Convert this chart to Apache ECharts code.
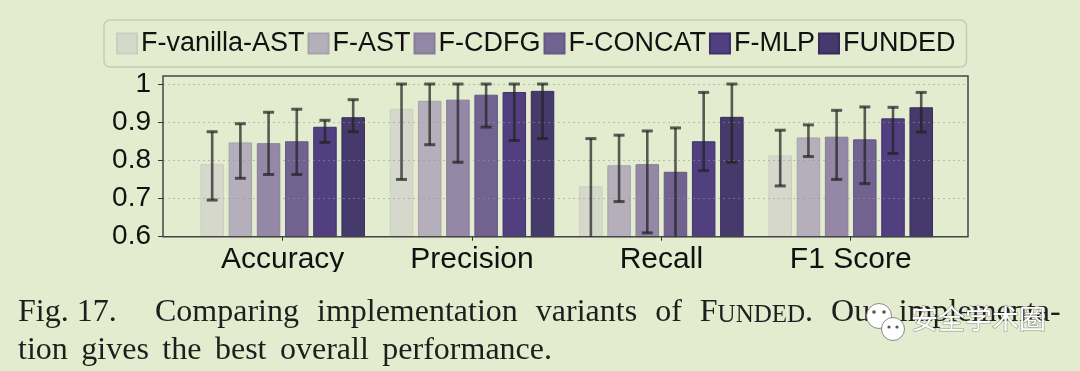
<!DOCTYPE html>
<html>
<head>
<meta charset="utf-8">
<script src="https://cdn.jsdelivr.net/npm/echarts@6/dist/echarts.min.js"></script>
<style>
html,body{margin:0;padding:0;background:#e3ecce;}
#chart{width:1080px;height:371px;}
</style>
</head>
<body>
<div id="chart"></div>
<script>
// ---- data ----
const categories = ['Accuracy', 'Precision', 'Recall', 'F1 Score'];
const seriesNames = ['F-vanilla-AST', 'F-AST', 'F-CDFG', 'F-CONCAT', 'F-MLP', 'FUNDED'];
const yTickValues = [0.6, 0.7, 0.8, 0.9, 1.0];
const yTickLabels = ['0.6', '0.7', '0.8', '0.9', '1'];

const vanillaAST      = [0.790, 0.935, 0.732, 0.813];
const vanillaASTLow   = [0.696, 0.750, 0.580, 0.733];
const vanillaASTHigh  = [0.875, 1.000, 0.857, 0.879];

const fAST            = [0.847, 0.956, 0.787, 0.860];
const fASTLow         = [0.753, 0.841, 0.692, 0.810];
const fASTHigh        = [0.896, 1.000, 0.866, 0.893];

const fCDFG           = [0.845, 0.959, 0.790, 0.862];
const fCDFGLow        = [0.763, 0.795, 0.610, 0.750];
const fCDFGHigh       = [0.926, 1.000, 0.877, 0.931];

const fCONCAT         = [0.850, 0.972, 0.770, 0.855];
const fCONCATLow      = [0.763, 0.887, 0.580, 0.739];
const fCONCATHigh     = [0.934, 1.000, 0.885, 0.940];

const fMLP            = [0.888, 0.979, 0.850, 0.910];
const fMLPLow         = [0.847, 0.852, 0.773, 0.818];
const fMLPHigh        = [0.905, 1.000, 0.978, 0.939];

const funded          = [0.913, 0.982, 0.914, 0.939];
const fundedLow       = [0.875, 0.857, 0.795, 0.874];
const fundedHigh      = [0.959, 1.000, 1.000, 0.978];

const captionLine1Head = 'Fig. 17.';
const captionLine1Words = ['Comparing', 'implementation', 'variants', 'of', 'F|UNDED|.', 'Our', 'implementa-'];
const captionLine2Words = ['tion', 'gives', 'the', 'best', 'overall', 'performance.'];
const watermarkText = '安全学术圈';

// ---- styling ----
const BG = '#e3ecce';
const colors  = ['#d5d8cb', '#b4afba', '#9587a6', '#726290', '#523f80', '#463a6c'];
const borders = ['#c9d0bd', '#a6a3ae', '#877c99', '#655786', '#3f3170', '#372c5a'];
const Y_MIN = 0.6, Y_MAX = 1.021;
const BAR_W = 23.5, BAR_GAP = 0.2;

const values = [vanillaAST, fAST, fCDFG, fCONCAT, fMLP, funded];
const lows   = [vanillaASTLow, fASTLow, fCDFGLow, fCONCATLow, fMLPLow, fundedLow];
const highs  = [vanillaASTHigh, fASTHigh, fCDFGHigh, fCONCATHigh, fMLPHigh, fundedHigh];

const errData = [];
seriesNames.forEach((n, si) => {
  categories.forEach((c, ci) => {
    errData.push([ci, lows[si][ci], highs[si][ci], si]);
  });
});

const barSeries = seriesNames.map((name, i) => ({
  name: name,
  type: 'bar',
  xAxisIndex: 1,
  yAxisIndex: 1,
  barWidth: BAR_W,
  barGap: (BAR_GAP * 100) + '%',
  data: values[i],
  itemStyle: { color: colors[i], borderColor: borders[i], borderWidth: 1 },
  z: 2
}));

const nS = seriesNames.length;
const errSeries = {
  type: 'custom',
  name: 'err',
  xAxisIndex: 1,
  yAxisIndex: 1,
  z: 6,
  silent: true,
  clip: false,
  data: errData,
  renderItem: function (params, api) {
    const ci = api.value(0), lo = api.value(1), hi = api.value(2), si = api.value(3);
    const pitch = BAR_W * (1 + BAR_GAP);
    const cx = api.coord([ci, hi])[0] + (si - (nS - 1) / 2) * pitch;
    const yHi = api.coord([ci, Math.min(hi, Y_MAX)])[1];
    const loClamped = lo < Y_MIN;
    const yLo = api.coord([ci, Math.max(lo, Y_MIN)])[1];
    const col = 'rgba(35,35,35,0.72)';
    const capW = 5.5;
    const children = [
      { type: 'line', shape: { x1: cx, y1: yHi, x2: cx, y2: yLo }, style: { stroke: col, lineWidth: 2.6 } },
      { type: 'line', shape: { x1: cx - capW, y1: yHi, x2: cx + capW, y2: yHi }, style: { stroke: col, lineWidth: 3 } }
    ];
    if (!loClamped) {
      children.push({ type: 'line', shape: { x1: cx - capW, y1: yLo, x2: cx + capW, y2: yLo }, style: { stroke: col, lineWidth: 3 } });
    }
    return { type: 'group', children: children };
  }
};

function yLabel(v) {
  for (let i = 0; i < yTickValues.length; i++) {
    if (Math.abs(v - yTickValues[i]) < 1e-6) return yTickLabels[i];
  }
  return '';
}

// build justified-looking caption lines with wider word spaces
function richLine(words, spaceTok) {
  const parts = [];
  words.forEach((w, i) => {
    if (w.indexOf('|') >= 0) {
      const p = w.split('|');
      parts.push('{n|' + p[0] + '}{s|' + p[1] + '}' + (p[2] ? '{n|' + p[2] + '}' : ''));
    } else {
      parts.push('{n|' + w + '}');
    }
    if (i < words.length - 1) parts.push('{' + spaceTok + '| }');
  });
  return parts.join('');
}

const chart = echarts.init(document.getElementById('chart'), null, { renderer: 'canvas' });
const serif = '"Liberation Serif", "DejaVu Serif", serif';
const capFont = '32px ' + serif;
const capRich = {
  n: { font: capFont, fill: '#1e1e1e', verticalAlign: 'bottom' },
  s: { font: '25px ' + serif, fill: '#1e1e1e', verticalAlign: 'bottom', padding: [0, 0, 1, 0] },
  w1: { font: capFont, width: 18 },
  w2: { font: capFont, width: 13.5 }
};
const option = {
  backgroundColor: BG,
  animation: false,
  textStyle: { fontFamily: '"Liberation Sans", Arial, sans-serif' },
  legend: {
    data: seriesNames,
    left: 104,
    top: 20,
    icon: 'rect',
    itemWidth: 20,
    itemHeight: 20,
    itemGap: 3,
    padding: [10, 11, 10, 12],
    borderColor: '#c5ccb6',
    borderWidth: 1.5,
    borderRadius: 6,
    selectedMode: false,
    textStyle: { fontSize: 27, color: '#111', fontFamily: '"Liberation Sans", Arial, sans-serif', padding: [0, 0, 0, -1] }
  },
  grid: [
    { left: 163, right: 112, top: 76, bottom: 134.3, show: true, borderColor: '#454545', borderWidth: 1.5, backgroundColor: 'transparent', z: 4 },
    { left: 188, right: 134.6, top: 76, bottom: 134.3 }
  ],
  xAxis: [
    { type: 'value', gridIndex: 0, min: 0, max: 1, show: false },
    {
      type: 'category', gridIndex: 1, data: categories,
      axisLine: { show: false },
      axisTick: { show: true, alignWithLabel: true, length: 4, lineStyle: { color: '#333', width: 1 } },
      axisLabel: { fontSize: 30, color: '#111', margin: 8, fontFamily: '"Liberation Sans", Arial, sans-serif' }
    }
  ],
  yAxis: [
    {
      type: 'value', gridIndex: 0, min: Y_MIN, max: Y_MAX, interval: 0.1, z: 3,
      axisLine: { show: false },
      axisTick: { show: true, length: 5, lineStyle: { color: '#333', width: 1 }, customValues: yTickValues },
      axisLabel: { fontSize: 28, color: '#111', margin: 12, formatter: yLabel, customValues: yTickValues,
                   fontFamily: '"Liberation Sans", Arial, sans-serif' },
      splitLine: { show: true, lineStyle: { type: [2, 3], color: 'rgba(150,150,150,0.55)', width: 1 } }
    },
    { type: 'value', gridIndex: 1, min: Y_MIN, max: Y_MAX, interval: 0.1, show: false }
  ],
  graphic: [
    { type: 'rect', z: 100, shape: { x: 0, y: 272, width: 1080, height: 14 }, style: { fill: BG } },
    { type: 'text', z: 100, x: 18, y: 297, style: { text: captionLine1Head, font: capFont, fill: '#1e1e1e' } },
    { type: 'text', z: 100, x: 155, y: 297, style: { text: richLine(captionLine1Words, 'w1'), rich: capRich } },
    { type: 'text', z: 100, x: 18, y: 335, style: { text: richLine(captionLine2Words, 'w2'), rich: capRich } },
    // watermark
    { type: 'circle', z: 110, shape: { cx: 879, cy: 316, r: 12.5 }, style: { fill: '#fff', stroke: 'rgba(110,110,110,0.8)', lineWidth: 1 } },
    { type: 'circle', z: 111, shape: { cx: 893, cy: 329, r: 11.5 }, style: { fill: '#fff', stroke: 'rgba(110,110,110,0.8)', lineWidth: 1 } },
    { type: 'circle', z: 112, shape: { cx: 874, cy: 312, r: 1.8 }, style: { fill: '#555' } },
    { type: 'circle', z: 112, shape: { cx: 884, cy: 312, r: 1.8 }, style: { fill: '#555' } },
    { type: 'circle', z: 112, shape: { cx: 889, cy: 327, r: 1.6 }, style: { fill: '#555' } },
    { type: 'circle', z: 112, shape: { cx: 897, cy: 327, r: 1.6 }, style: { fill: '#555' } },
    { type: 'text', z: 113, x: 911, y: 305, style: {
        text: watermarkText, font: '27px "Noto Sans CJK SC"', fill: '#ffffff',
        stroke: 'rgba(80,80,80,0.55)', lineWidth: 1.2,
        shadowColor: 'rgba(0,0,0,0.5)', shadowBlur: 2, shadowOffsetX: 1, shadowOffsetY: 1
    } }
  ],
  series: barSeries.concat([errSeries])
};
chart.setOption(option);
</script>
</body>
</html>
